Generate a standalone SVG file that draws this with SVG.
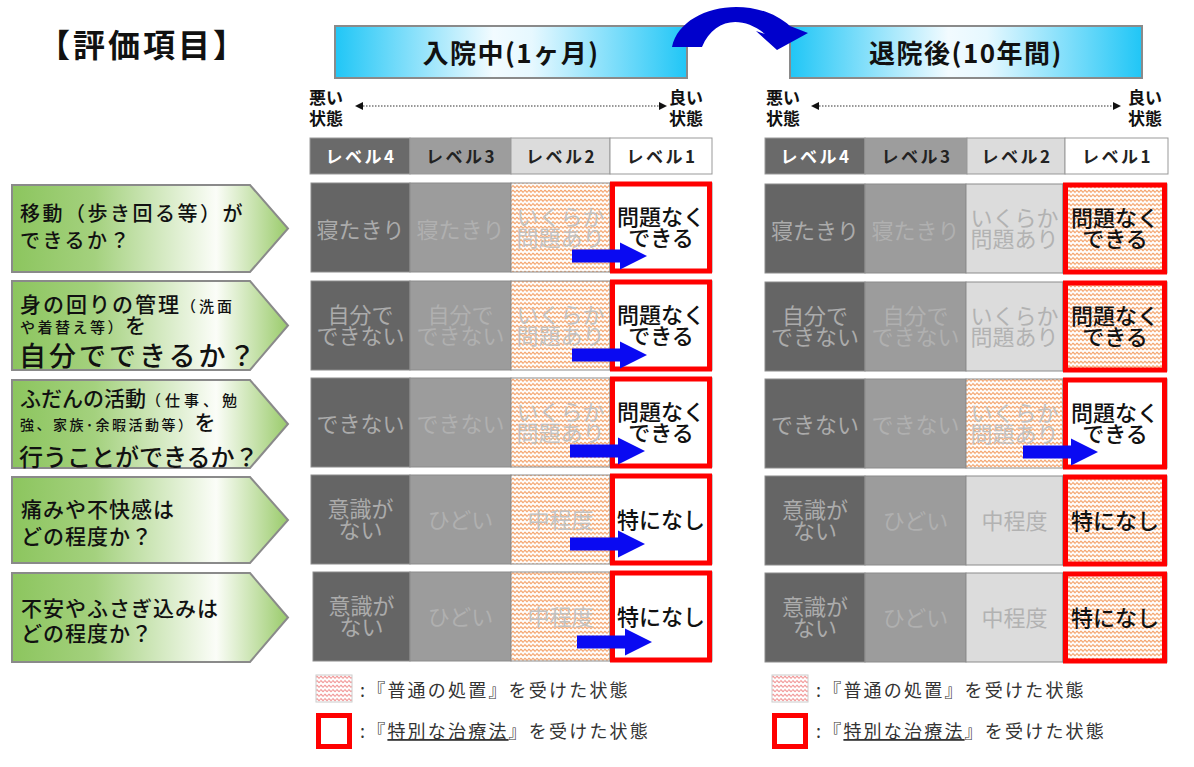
<svg xmlns="http://www.w3.org/2000/svg" width="1194" height="767" viewBox="0 0 1194 767">
<style>
text{font-family:'Noto Sans CJK JP','Noto Sans',sans-serif}
.ttl{font-size:32px;font-weight:700;fill:#111;letter-spacing:3px}
.hd{font-size:26px;font-weight:700;fill:#111;text-anchor:middle;letter-spacing:1.5px}
.hbox{fill:url(#cyan);stroke:#8a8a8a;stroke-width:2}
.st{font-size:17px;font-weight:700;fill:#111}
.lv{font-size:17px;font-weight:700;text-anchor:middle;fill:#222;letter-spacing:2.5px}
.lbl{fill:url(#green);stroke:#8a8a8a;stroke-width:2}
.lt{font-size:21px;font-weight:500;fill:#111}
.c4{fill:#656565;stroke:#8c8c8c}
.c3{fill:#9c9c9c;stroke:#8c8c8c}
.c2{fill:#dcdcdc;stroke:#8c8c8c}
.ch{fill:url(#hatch);stroke:#8c8c8c}
.c1{fill:#fff;stroke:#8c8c8c}
.red{fill:none;stroke:#ff0000;stroke-width:5}
.ct{font-size:22px;text-anchor:middle}
.t4{fill:#ababab}.t3{fill:#b0b0b0}.t2{fill:#c2c2c2}.t2g{fill:#b2b2b2}
.t1{fill:#111;font-weight:500}
.lg{font-size:18px;fill:#333;letter-spacing:2.2px}
</style>
<defs>
<linearGradient id="cyan" x1="0" y1="0" x2="1" y2="0">
<stop offset="0" stop-color="#20c6f6"/><stop offset="0.45" stop-color="#f2fbff"/><stop offset="0.56" stop-color="#e6f8ff"/><stop offset="1" stop-color="#20c6f6"/>
</linearGradient>
<linearGradient id="green" x1="0" y1="0" x2="1" y2="0">
<stop offset="0" stop-color="#8cc55e"/><stop offset="0.3" stop-color="#a4d17e"/><stop offset="0.74" stop-color="#fbfdf8"/><stop offset="1" stop-color="#9acb6b"/>
</linearGradient>
<pattern id="hatch" width="4" height="4.5" patternUnits="userSpaceOnUse">
<rect width="4" height="4.5" fill="#fff"/>
<path d="M0 2.2 L1 1.2 L3 3.2 L4 2.2" fill="none" stroke="#f39a5c" stroke-width="1.1"/>
</pattern>
<pattern id="hatchL" width="4" height="4.5" patternUnits="userSpaceOnUse">
<rect width="4" height="4.5" fill="#fff"/>
<path d="M0 2.2 L1 1.2 L3 3.2 L4 2.2" fill="none" stroke="#ef8080" stroke-width="1"/>
</pattern>
<path id="barrow" d="M-75,-6.5 H-27 V-13.5 L0,0 L-27,13.5 V6.5 H-75 Z" fill="#0a0af2"/>
</defs>
<rect width="1194" height="767" fill="#fff"/>

<text class="ttl" x="38" y="57">【評価項目】</text>

<g id="header-left">
<rect class="hbox" x="335" y="26" width="352" height="52"/>
<text class="hd" x="511" y="63">入院中(1ヶ月)</text>
</g>
<g id="header-right">
<rect class="hbox" x="790" y="26" width="352" height="52"/>
<text class="hd" x="966" y="63">退院後(10年間)</text>
</g>

<g id="scale-left">
<text class="st" x="309" y="104">悪い</text><text class="st" x="309" y="125">状態</text>
<text class="st" x="669" y="104">良い</text><text class="st" x="669" y="125">状態</text>
</g>
<g id="scale-right">
<text class="st" x="766" y="104">悪い</text><text class="st" x="766" y="125">状態</text>
<text class="st" x="1128" y="104">良い</text><text class="st" x="1128" y="125">状態</text>
</g>

<g id="levels-left">
<rect x="310" y="138" width="100" height="36" fill="#6a6a6a" stroke="#999"/>
<rect x="410" y="138" width="101" height="36" fill="#9d9d9d" stroke="#999"/>
<rect x="511" y="138" width="99" height="36" fill="#dcdcdc" stroke="#999"/>
<rect x="610" y="138" width="102" height="36" fill="#fff" stroke="#999"/>
<text class="lv" x="361" y="163" style="fill:#fff">レベル4</text>
<text class="lv" x="461.5" y="163">レベル3</text>
<text class="lv" x="561.5" y="163">レベル2</text>
<text class="lv" x="662" y="163">レベル1</text>
</g>
<g id="levels-right">
<rect x="765" y="138" width="100" height="36" fill="#6a6a6a" stroke="#999"/>
<rect x="865" y="138" width="102" height="36" fill="#9d9d9d" stroke="#999"/>
<rect x="967" y="138" width="98" height="36" fill="#dcdcdc" stroke="#999"/>
<rect x="1065" y="138" width="103" height="36" fill="#fff" stroke="#999"/>
<text class="lv" x="816" y="163" style="fill:#fff">レベル4</text>
<text class="lv" x="917" y="163">レベル3</text>
<text class="lv" x="1017" y="163">レベル2</text>
<text class="lv" x="1117.5" y="163">レベル1</text>
</g>

<g id="label-1">
<path class="lbl" d="M12 185 H250 L288 228.5 L250 272 H12 Z"/>
<text class="lt" x="20" y="221" style="font-size:20px;letter-spacing:2.5px">移動（歩き回る等）が</text>
<text class="lt" x="20" y="248" style="font-size:20px;letter-spacing:2.5px">できるか？</text>
</g>
<g id="label-2">
<path class="lbl" d="M12 281 H250 L288 325.5 L250 370 H12 Z"/>
<text class="lt" x="20" y="312" style="letter-spacing:2px">身の回りの管理<tspan style="font-size:15px;letter-spacing:3px">（洗面</tspan></text>
<text class="lt" x="20" y="333"><tspan style="font-size:15px;letter-spacing:2.5px">や着替え等）</tspan>を</text>
<text class="lt" x="19" y="366" style="font-size:27px;letter-spacing:3px">自分でできるか？</text>
</g>
<g id="label-3">
<path class="lbl" d="M12 380 H250 L288 424 L250 468 H12 Z"/>
<text class="lt" x="20" y="406">ふだんの活動<tspan style="font-size:15px;letter-spacing:4px">（仕事、勉</tspan></text>
<text class="lt" x="20" y="430"><tspan style="font-size:14px;letter-spacing:2.5px">強、家族･余暇活動等）</tspan>を</text>
<text class="lt" x="19" y="466" style="font-size:24px">行うことができるか？</text>
</g>
<g id="label-4">
<path class="lbl" d="M12 477 H250 L288 520 L250 563 H12 Z"/>
<text class="lt" x="21" y="517" style="letter-spacing:1px">痛みや不快感は</text>
<text class="lt" x="21" y="544" style="letter-spacing:1px">どの程度か？</text>
</g>
<g id="label-5">
<path class="lbl" d="M12 573 H250 L288 617.5 L250 662 H12 Z"/>
<text class="lt" x="21" y="616" style="letter-spacing:1px">不安やふさぎ込みは</text>
<text class="lt" x="21" y="641" style="letter-spacing:1px">どの程度か？</text>
</g>

<!-- left panel -->
<g id="L-row1">
<rect class="c4" x="311" y="183" width="99" height="89"/><rect class="c3" x="410" y="183" width="101" height="89"/><rect class="ch" x="511" y="183" width="99" height="89"/><rect class="c1" x="610" y="183" width="102" height="89"/><rect class="red" x="612.5" y="184" width="97" height="87"/>
<text class="ct t4" x="360.5" y="238">寝たきり</text><text class="ct t3" x="460.5" y="238">寝たきり</text>
<text class="ct t2" x="560.5" y="225">いくらか</text><text class="ct t2" x="560.5" y="246">問題あり</text>
<text class="ct t1" x="661" y="225">問題なく</text><text class="ct t1" x="661" y="246">できる</text>
</g>
<g id="L-row2">
<rect class="c4" x="311" y="281" width="99" height="89"/><rect class="c3" x="410" y="281" width="101" height="89"/><rect class="ch" x="511" y="281" width="99" height="89"/><rect class="c1" x="610" y="281" width="102" height="89"/><rect class="red" x="612.5" y="282" width="97" height="87"/>
<text class="ct t4" x="360.5" y="323">自分で</text><text class="ct t4" x="360.5" y="344">できない</text>
<text class="ct t3" x="460.5" y="323">自分で</text><text class="ct t3" x="460.5" y="344">できない</text>
<text class="ct t2" x="560.5" y="323">いくらか</text><text class="ct t2" x="560.5" y="344">問題あり</text>
<text class="ct t1" x="661" y="323">問題なく</text><text class="ct t1" x="661" y="344">できる</text>
</g>
<g id="L-row3">
<rect class="c4" x="311" y="378" width="99" height="89"/><rect class="c3" x="410" y="378" width="101" height="89"/><rect class="ch" x="511" y="378" width="99" height="89"/><rect class="c1" x="610" y="378" width="102" height="89"/><rect class="red" x="612.5" y="379" width="97" height="87"/>
<text class="ct t4" x="360.5" y="432">できない</text><text class="ct t3" x="460.5" y="432">できない</text>
<text class="ct t2" x="560.5" y="420">いくらか</text><text class="ct t2" x="560.5" y="441">問題あり</text>
<text class="ct t1" x="661" y="420">問題なく</text><text class="ct t1" x="661" y="441">できる</text>
</g>
<g id="L-row4">
<rect class="c4" x="311" y="475" width="99" height="89"/><rect class="c3" x="410" y="475" width="101" height="89"/><rect class="ch" x="511" y="475" width="99" height="89"/><rect class="c1" x="610" y="475" width="102" height="89"/><rect class="red" x="612.5" y="476" width="97" height="87"/>
<text class="ct t4" x="360.5" y="517">意識が</text><text class="ct t4" x="360.5" y="538">ない</text>
<text class="ct t3" x="460.5" y="528">ひどい</text><text class="ct t2" x="560.5" y="528">中程度</text>
<text class="ct t1" x="661" y="528">特になし</text>
</g>
<g id="L-row5">
<rect class="c4" x="313" y="572" width="97" height="89"/><rect class="c3" x="410" y="572" width="101" height="89"/><rect class="ch" x="511" y="572" width="99" height="89"/><rect class="c1" x="610" y="572" width="102" height="89"/><rect class="red" x="612.5" y="573" width="97" height="87"/>
<text class="ct t4" x="361.5" y="614">意識が</text><text class="ct t4" x="361.5" y="635">ない</text>
<text class="ct t3" x="460.5" y="625">ひどい</text><text class="ct t2" x="560.5" y="625">中程度</text>
<text class="ct t1" x="661" y="625">特になし</text>
</g>

<!-- right panel -->
<g id="R-row1">
<rect class="c4" x="765" y="184" width="100" height="89"/><rect class="c3" x="865" y="184" width="101" height="89"/><rect class="c2" x="966" y="184" width="97" height="89"/><rect class="ch" x="1063" y="184" width="104" height="89"/><rect class="red" x="1065.5" y="185" width="99" height="87"/>
<text class="ct t4" x="815" y="239">寝たきり</text><text class="ct t3" x="915.5" y="239">寝たきり</text>
<text class="ct t2g" x="1014.5" y="226">いくらか</text><text class="ct t2g" x="1014.5" y="247">問題あり</text>
<text class="ct t1" x="1115" y="226">問題なく</text><text class="ct t1" x="1115" y="247">できる</text>
</g>
<g id="R-row2">
<rect class="c4" x="765" y="282" width="100" height="89"/><rect class="c3" x="865" y="282" width="101" height="89"/><rect class="c2" x="966" y="282" width="97" height="89"/><rect class="ch" x="1063" y="282" width="104" height="89"/><rect class="red" x="1065.5" y="283" width="99" height="87"/>
<text class="ct t4" x="815" y="324">自分で</text><text class="ct t4" x="815" y="345">できない</text>
<text class="ct t3" x="915.5" y="324">自分で</text><text class="ct t3" x="915.5" y="345">できない</text>
<text class="ct t2g" x="1014.5" y="324">いくらか</text><text class="ct t2g" x="1014.5" y="345">問題あり</text>
<text class="ct t1" x="1115" y="324">問題なく</text><text class="ct t1" x="1115" y="345">できる</text>
</g>
<g id="R-row3">
<rect class="c4" x="765" y="379" width="100" height="89"/><rect class="c3" x="865" y="379" width="101" height="89"/><rect class="ch" x="966" y="379" width="97" height="89"/><rect class="c1" x="1063" y="379" width="104" height="89"/><rect class="red" x="1065.5" y="380" width="99" height="87"/>
<text class="ct t4" x="815" y="433">できない</text><text class="ct t3" x="915.5" y="433">できない</text>
<text class="ct t2" x="1014.5" y="421">いくらか</text><text class="ct t2" x="1014.5" y="442">問題あり</text>
<text class="ct t1" x="1115" y="421">問題なく</text><text class="ct t1" x="1115" y="442">できる</text>
</g>
<g id="R-row4">
<rect class="c4" x="765" y="476" width="100" height="89"/><rect class="c3" x="865" y="476" width="101" height="89"/><rect class="c2" x="966" y="476" width="97" height="89"/><rect class="ch" x="1063" y="476" width="104" height="89"/><rect class="red" x="1065.5" y="477" width="99" height="87"/>
<text class="ct t4" x="815" y="518">意識が</text><text class="ct t4" x="815" y="539">ない</text>
<text class="ct t3" x="915.5" y="529">ひどい</text><text class="ct t2g" x="1014.5" y="529">中程度</text>
<text class="ct t1" x="1115" y="529">特になし</text>
</g>
<g id="R-row5">
<rect class="c4" x="765" y="573" width="100" height="89"/><rect class="c3" x="865" y="573" width="101" height="89"/><rect class="c2" x="966" y="573" width="97" height="89"/><rect class="ch" x="1063" y="573" width="104" height="89"/><rect class="red" x="1065.5" y="574" width="99" height="87"/>
<text class="ct t4" x="815" y="615">意識が</text><text class="ct t4" x="815" y="636">ない</text>
<text class="ct t3" x="915.5" y="626">ひどい</text><text class="ct t2g" x="1014.5" y="626">中程度</text>
<text class="ct t1" x="1115" y="626">特になし</text>
</g>

<g id="connectors">
<path d="M672 47 C680 6, 752 -8, 790 26 L808 33 L777 50 L756 31 L765 34 C742 15, 714 18, 702 47 Z" fill="#0000cc"/>
<line x1="363" y1="106" x2="659" y2="106" stroke="#333" stroke-width="1.2" stroke-dasharray="1.5 1.5"/>
<polygon points="355,106 363,102 363,110" fill="#111"/><polygon points="667,106 659,102 659,110" fill="#111"/>
<line x1="819" y1="106" x2="1113" y2="106" stroke="#333" stroke-width="1.2" stroke-dasharray="1.5 1.5"/>
<polygon points="811,106 819,102 819,110" fill="#111"/><polygon points="1121,106 1113,102 1113,110" fill="#111"/>
<use href="#barrow" x="647" y="256"/>
<use href="#barrow" x="647" y="355"/>
<use href="#barrow" x="645" y="451"/>
<use href="#barrow" x="645" y="544"/>
<use href="#barrow" x="652" y="642"/>
<use href="#barrow" x="1098" y="452"/>
</g>

<g id="legend-left">
<rect x="316" y="675" width="36" height="27" fill="url(#hatchL)" stroke="#ccc"/>
<rect x="318.5" y="715.5" width="31" height="31" fill="#fff" stroke="#ff0000" stroke-width="5"/>
<text class="lg" x="360" y="697">:『普通の処置』を受けた状態</text>
<text class="lg" x="360" y="738">:『<tspan text-decoration="underline">特別な治療法</tspan>』を受けた状態</text>
</g>
<g id="legend-right">
<rect x="772" y="675" width="36" height="27" fill="url(#hatchL)" stroke="#ccc"/>
<rect x="774.5" y="715.5" width="31" height="31" fill="#fff" stroke="#ff0000" stroke-width="5"/>
<text class="lg" x="816" y="697">:『普通の処置』を受けた状態</text>
<text class="lg" x="816" y="738">:『<tspan text-decoration="underline">特別な治療法</tspan>』を受けた状態</text>
</g>
</svg>
